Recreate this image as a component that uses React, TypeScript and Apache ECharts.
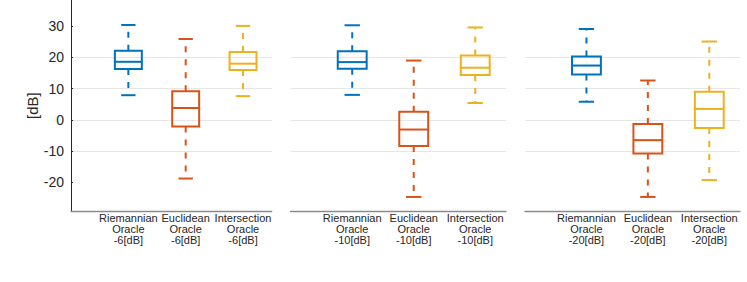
import React, { useEffect, useRef } from "react";
import * as echarts from "echarts";

// Box statistics per method: [lowerWhisker, Q1, median, Q3, upperWhisker]
const methods = ["Riemannian", "Euclidean", "Intersection"];
const snrLabels = ["-6[dB]", "-10[dB]", "-20[dB]"];
const positions = [1, 2, 3];
const colors = ["#0072BD", "#D95319", "#EDB120"];

const panel6 = [
  [7.9, 16.3, 18.6, 22.1, 30.4],
  [-18.8, -2.1, 3.8, 9.2, 25.9],
  [7.6, 16.0, 18.0, 21.7, 30.1],
];
const panel10 = [
  [8.0, 16.4, 18.5, 22.0, 30.3],
  [-24.7, -8.4, -3.1, 2.6, 19.0],
  [5.4, 14.4, 16.7, 20.6, 29.6],
];
const panel20 = [
  [5.8, 14.5, 17.4, 20.3, 29.1],
  [-24.7, -10.8, -6.5, -1.3, 12.6],
  [-19.3, -2.6, 3.5, 9.0, 25.1],
];
const yTicks = [-20, -10, 0, 10, 20, 30];
const yMin = -29.3;
const yMax = 38.4;

const panels = [panel6, panel10, panel20];
const gridBoxes = [
  { left: 71, width: 200.7 },
  { left: 290.7, width: 215.3 },
  { left: 525, width: 215 },
];

const textColor = "#262626";
const fontFamily = "'Liberation Sans', Arial, Helvetica, sans-serif";

function renderBox(params: any, api: any) {
  const x = api.value(0);
  const lo = api.value(1);
  const q1 = api.value(2);
  const med = api.value(3);
  const q3 = api.value(4);
  const hi = api.value(5);
  const step = api.size([1, 0])[0];
  const halfBox = step * 0.235;
  const halfCap = step * 0.125;
  const [cx, yLo] = api.coord([x, lo]);
  const yQ1 = api.coord([x, q1])[1];
  const yMed = api.coord([x, med])[1];
  const yQ3 = api.coord([x, q3])[1];
  const yHi = api.coord([x, hi])[1];
  const color = colors[params.dataIndex % colors.length];
  const lw = 2;
  const solid = { stroke: color, lineWidth: lw, fill: "none" };
  const dashed = { stroke: color, lineWidth: lw, lineDash: [6, 7], fill: "none" };
  return {
    type: "group",
    children: [
      { type: "line", shape: { x1: cx, y1: yQ3, x2: cx, y2: yHi }, style: dashed },
      { type: "line", shape: { x1: cx, y1: yQ1, x2: cx, y2: yLo }, style: dashed },
      { type: "line", shape: { x1: cx - halfCap, y1: yHi, x2: cx + halfCap, y2: yHi }, style: solid },
      { type: "line", shape: { x1: cx - halfCap, y1: yLo, x2: cx + halfCap, y2: yLo }, style: solid },
      {
        type: "rect",
        shape: { x: cx - halfBox, y: yQ3, width: halfBox * 2, height: yQ1 - yQ3 },
        style: solid,
      },
      { type: "line", shape: { x1: cx - halfBox, y1: yMed, x2: cx + halfBox, y2: yMed }, style: solid },
    ],
  };
}

export default function App() {
  const ref = useRef<HTMLDivElement>(null);
  useEffect(() => {
    document.body.style.margin = "0";
    if (!ref.current) return;
    const chart = echarts.init(ref.current, undefined, { renderer: "svg" });
    const grid = gridBoxes.map((g) => ({ left: g.left, width: g.width, top: 0, height: 211.3 }));
    const xAxis = panels.map((_, p) => ({
      type: "value",
      gridIndex: p,
      min: 0,
      max: 3.5,
      axisLine: { show: true, onZero: false, lineStyle: { color: "#8a8a8a", width: 1.4 } },
      axisTick: { show: false },
      splitLine: { show: false },
      axisLabel: {
        customValues: positions,
        margin: 1,
        fontSize: 11,
        lineHeight: 11,
        color: textColor,
        fontFamily,
        formatter: (v: number) => {
          const i = positions.indexOf(v);
          return i >= 0 ? `${methods[i]}\nOracle\n${snrLabels[p]}` : "";
        },
      },
    }));
    const yAxis = panels.map((_, p) => ({
      type: "value",
      gridIndex: p,
      min: yMin,
      max: yMax,
      name: p === 0 ? "[dB]" : "",
      nameLocation: "middle",
      nameGap: 29,
      nameTextStyle: { fontSize: 15, color: textColor, fontFamily },
      axisLine: { show: p === 0, lineStyle: { color: textColor, width: 1 } },
      axisTick: {
        show: p === 0,
        inside: true,
        length: 2,
        customValues: yTicks,
        lineStyle: { color: textColor },
      },
      axisLabel: {
        show: p === 0,
        customValues: yTicks,
        margin: 7,
        fontSize: 14,
        color: textColor,
        fontFamily,
      },
      splitLine: {
        show: true,
        showMinLine: false,
        showMaxLine: false,
        lineStyle: { color: "#e6e6e6", width: 1.2 },
      },
    }));
    const series = panels.map((panel, p) => ({
      type: "custom",
      xAxisIndex: p,
      yAxisIndex: p,
      renderItem: renderBox,
      encode: { x: 0, y: [1, 2, 3, 4, 5] },
      data: panel.map((s, i) => [positions[i], ...s]),
    }));
    chart.setOption({
      animation: false,
      backgroundColor: "#ffffff",
      grid,
      xAxis,
      yAxis,
      series,
    } as any);
    return () => chart.dispose();
  }, []);
  return <div ref={ref} style={{ width: 747, height: 282 }} />;
}
